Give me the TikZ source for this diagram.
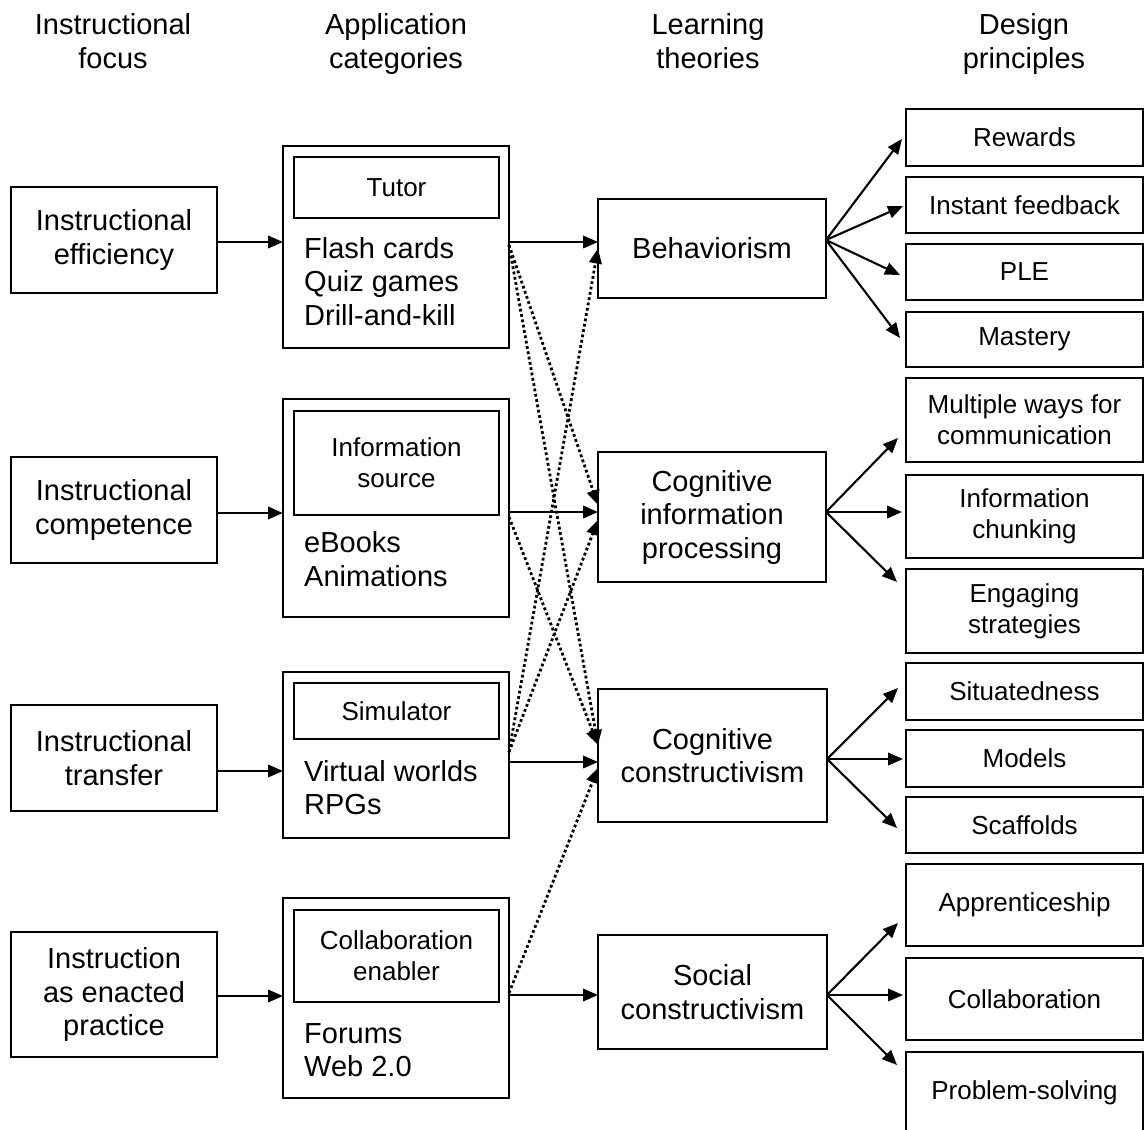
\documentclass[tikz,border=0pt]{standalone}
\usepackage{fontspec}
\setmainfont{Liberation Sans}
\usetikzlibrary{arrows.meta,calc}
\newcommand\myLarge{\fontsize{29pt}{33.5pt}\selectfont}
\newcommand\mySmall{\fontsize{26pt}{31pt}\selectfont}
\begin{document}
\begin{tikzpicture}[x=1pt,y=-1pt,
  box/.style={draw, line width=2.6pt, inner sep=0pt, outer sep=0pt, align=center},
  lg/.style={font=\myLarge},
  sm/.style={font=\mySmall},
  dp/.style={box, sm, minimum width=237pt},
  hd/.style={lg, align=center, inner sep=0pt},
  arr/.style={line width=2.1pt, -{Triangle[length=15pt,width=12.5pt]}},
  dotarr/.style={line width=2.8pt, dash pattern=on 2.8pt off 2.6pt, -{Triangle[length=15pt,width=12.5pt]}}]
\useasboundingbox (0,0) rectangle (1144,1130);
\fill[white] (0,0) rectangle (1144,1130);

% headers
\node[hd] (h1) at (113,45) {\strut Instructional\\focus\strut};
\node[hd] (h2) at (396,45) {\strut Application\\categories\strut};
\node[hd] (h3) at (708,45) {\strut Learning\\theories\strut};
\node[hd] (h4) at (1024,45) {\strut Design\\principles\strut};

% instructional focus
\node[box, lg, minimum width=206pt, minimum height=106pt] (f1) at (114,240) {Instructional\\efficiency};
\node[box, lg, minimum width=206pt, minimum height=106pt] (f2) at (114,510) {Instructional\\competence};
\node[box, lg, minimum width=206pt, minimum height=106pt] (f3) at (114,758) {Instructional\\transfer};
\node[box, lg, minimum width=206pt, minimum height=125pt] (f4) at (114,994.5) {Instruction\\as enacted\\practice};

% application categories
\node[box, minimum width=226pt, minimum height=202pt] (a1) at (396,247) {};
\node[box, minimum width=226pt, minimum height=218pt] (a2) at (396,508) {};
\node[box, minimum width=226pt, minimum height=166pt] (a3) at (396,755) {};
\node[box, minimum width=226pt, minimum height=200pt] (a4) at (396,998) {};
\node[box, sm, minimum width=205pt, minimum height=61pt] (i1) at (396.5,187.5) {Tutor};
\node[box, sm, minimum width=205pt, minimum height=104pt] (i2) at (396.5,463) {Information\\source};
\node[box, sm, minimum width=205pt, minimum height=56pt] (i3) at (396.5,711) {Simulator};
\node[box, sm, minimum width=205pt, minimum height=92pt] (i4) at (396.5,956) {Collaboration\\enabler};
\node[lg, align=left, anchor=west, inner sep=0pt] (l1) at (304,281.5) {Flash cards\\Quiz games\\Drill-and-kill};
\node[lg, align=left, anchor=west, inner sep=0pt] (l2) at (304,559) {eBooks\\Animations};
\node[lg, align=left, anchor=west, inner sep=0pt] (l3) at (304,787.5) {Virtual worlds\\RPGs};
\node[lg, align=left, anchor=west, inner sep=0pt] (l4) at (304,1050) {Forums\\Web 2.0};

% learning theories
\node[box, lg, minimum width=228pt, minimum height=99pt] (beh) at (712,248.5) {Behaviorism};
\node[box, lg, minimum width=228pt, minimum height=130pt] (cip) at (712,517) {Cognitive\\information\\processing};
\node[box, lg, minimum width=229pt, minimum height=133pt] (cc) at (712.5,755.5) {Cognitive\\constructivism};
\node[box, lg, minimum width=229pt, minimum height=114pt] (soc) at (712.5,992) {Social\\constructivism};

% design principles
\node[dp, minimum height=57pt] (d1) at (1024.5,137.5) {Rewards};
\node[dp, minimum height=56pt] (d2) at (1024.5,205) {Instant feedback};
\node[dp, minimum height=56pt] (d3) at (1024.5,272) {PLE};
\node[dp, minimum height=55pt] (d4) at (1024.5,339.5) {Mastery};
\node[dp, minimum height=84pt] (d5) at (1024.5,420) {Multiple ways for\\communication};
\node[dp, minimum height=83pt] (d6) at (1024.5,516.5) {Information\\chunking};
\node[dp, minimum height=84pt] (d7) at (1024.5,611) {Engaging\\strategies};
\node[dp, minimum height=57pt] (d8) at (1024.5,691.5) {Situatedness};
\node[dp, minimum height=57pt] (d9) at (1024.5,758.5) {Models};
\node[dp, minimum height=56pt] (d10) at (1024.5,825) {Scaffolds};
\node[dp, minimum height=82pt] (d11) at (1024.5,905) {Apprenticeship};
\node[dp, minimum height=82pt] (d12) at (1024.5,999) {Collaboration};
\node[dp, minimum height=82pt] (d13) at (1024.5,1093) {Problem-solving};

% focus -> application
\draw[arr] ($(f1.east)+(0,2)$) -- ($(a1.west)+(0,-5)$);
\draw[arr] ($(f2.east)+(0,3)$) -- ($(a2.west)+(0,5)$);
\draw[arr] ($(f3.east)+(0,13)$) -- ($(a3.west)+(0,16)$);
\draw[arr] ($(f4.east)+(0,1.5)$) -- ($(a4.west)+(0,-2)$);

% application -> theory (solid)
\draw[arr] ($(a1.east)+(0,-5)$) -- ($(beh.west)+(0,-6.5)$);
\draw[arr] ($(a2.east)+(0,4)$) -- ($(cip.west)+(0,-5)$);
\draw[arr] ($(a3.east)+(0,7)$) -- ($(cc.west)+(0,6.5)$);
\draw[arr] ($(a4.east)+(0,-3)$) -- ($(soc.west)+(0,3)$);

% application -> theory (dotted)
\draw[dotarr] ($(a1.east)+(0,-2)$) -- ($(cip.west)+(0,-12)$);
\draw[dotarr] ($(a1.east)+(0,-2)$) -- ($(cc.west)+(0,-10.5)$);
\draw[dotarr] ($(a2.east)+(0,9)$) -- ($(cc.west)+(0,-10.5)$);
\draw[dotarr] ($(a3.east)+(0,-3)$) -- (beh.west);
\draw[dotarr] ($(a3.east)+(0,-3)$) -- ($(cip.west)+(0,3)$);
\draw[dotarr] ($(a4.east)+(0,-5)$) -- ($(cc.west)+(0,12.5)$);

% theory -> design principles
\coordinate (bs) at ($(beh.east)+(0,-8.5)$);
\draw[arr] (bs) -- ($(d1.west)+(-4,1.5)$);
\draw[arr] (bs) -- ($(d2.west)+(-3,1)$);
\draw[arr] (bs) -- ($(d3.west)+(-6,3)$);
\draw[arr] (bs) -- ($(d4.west)+(-6,-1.5)$);
\coordinate (cs) at ($(cip.east)+(0,-5)$);
\draw[arr] (cs) -- ($(d5.west)+(-8,18)$);
\draw[arr] (cs) -- ($(d6.west)+(-4,-4.5)$);
\draw[arr] (cs) -- ($(d7.west)+(-9,-29)$);
\coordinate (ccs) at ($(cc.east)+(0,3.5)$);
\draw[arr] (ccs) -- ($(d8.west)+(-8,-3.5)$);
\draw[arr] (ccs) -- ($(d9.west)+(-3,0.5)$);
\draw[arr] (ccs) -- ($(d10.west)+(-9,3)$);
\coordinate (ss) at ($(soc.east)+(0,3)$);
\draw[arr] (ss) -- ($(d11.west)+(-8,18)$);
\draw[arr] (ss) -- ($(d12.west)+(-3,-4)$);
\draw[arr] (ss) -- ($(d13.west)+(-9,-28)$);
\end{tikzpicture}
\end{document}
